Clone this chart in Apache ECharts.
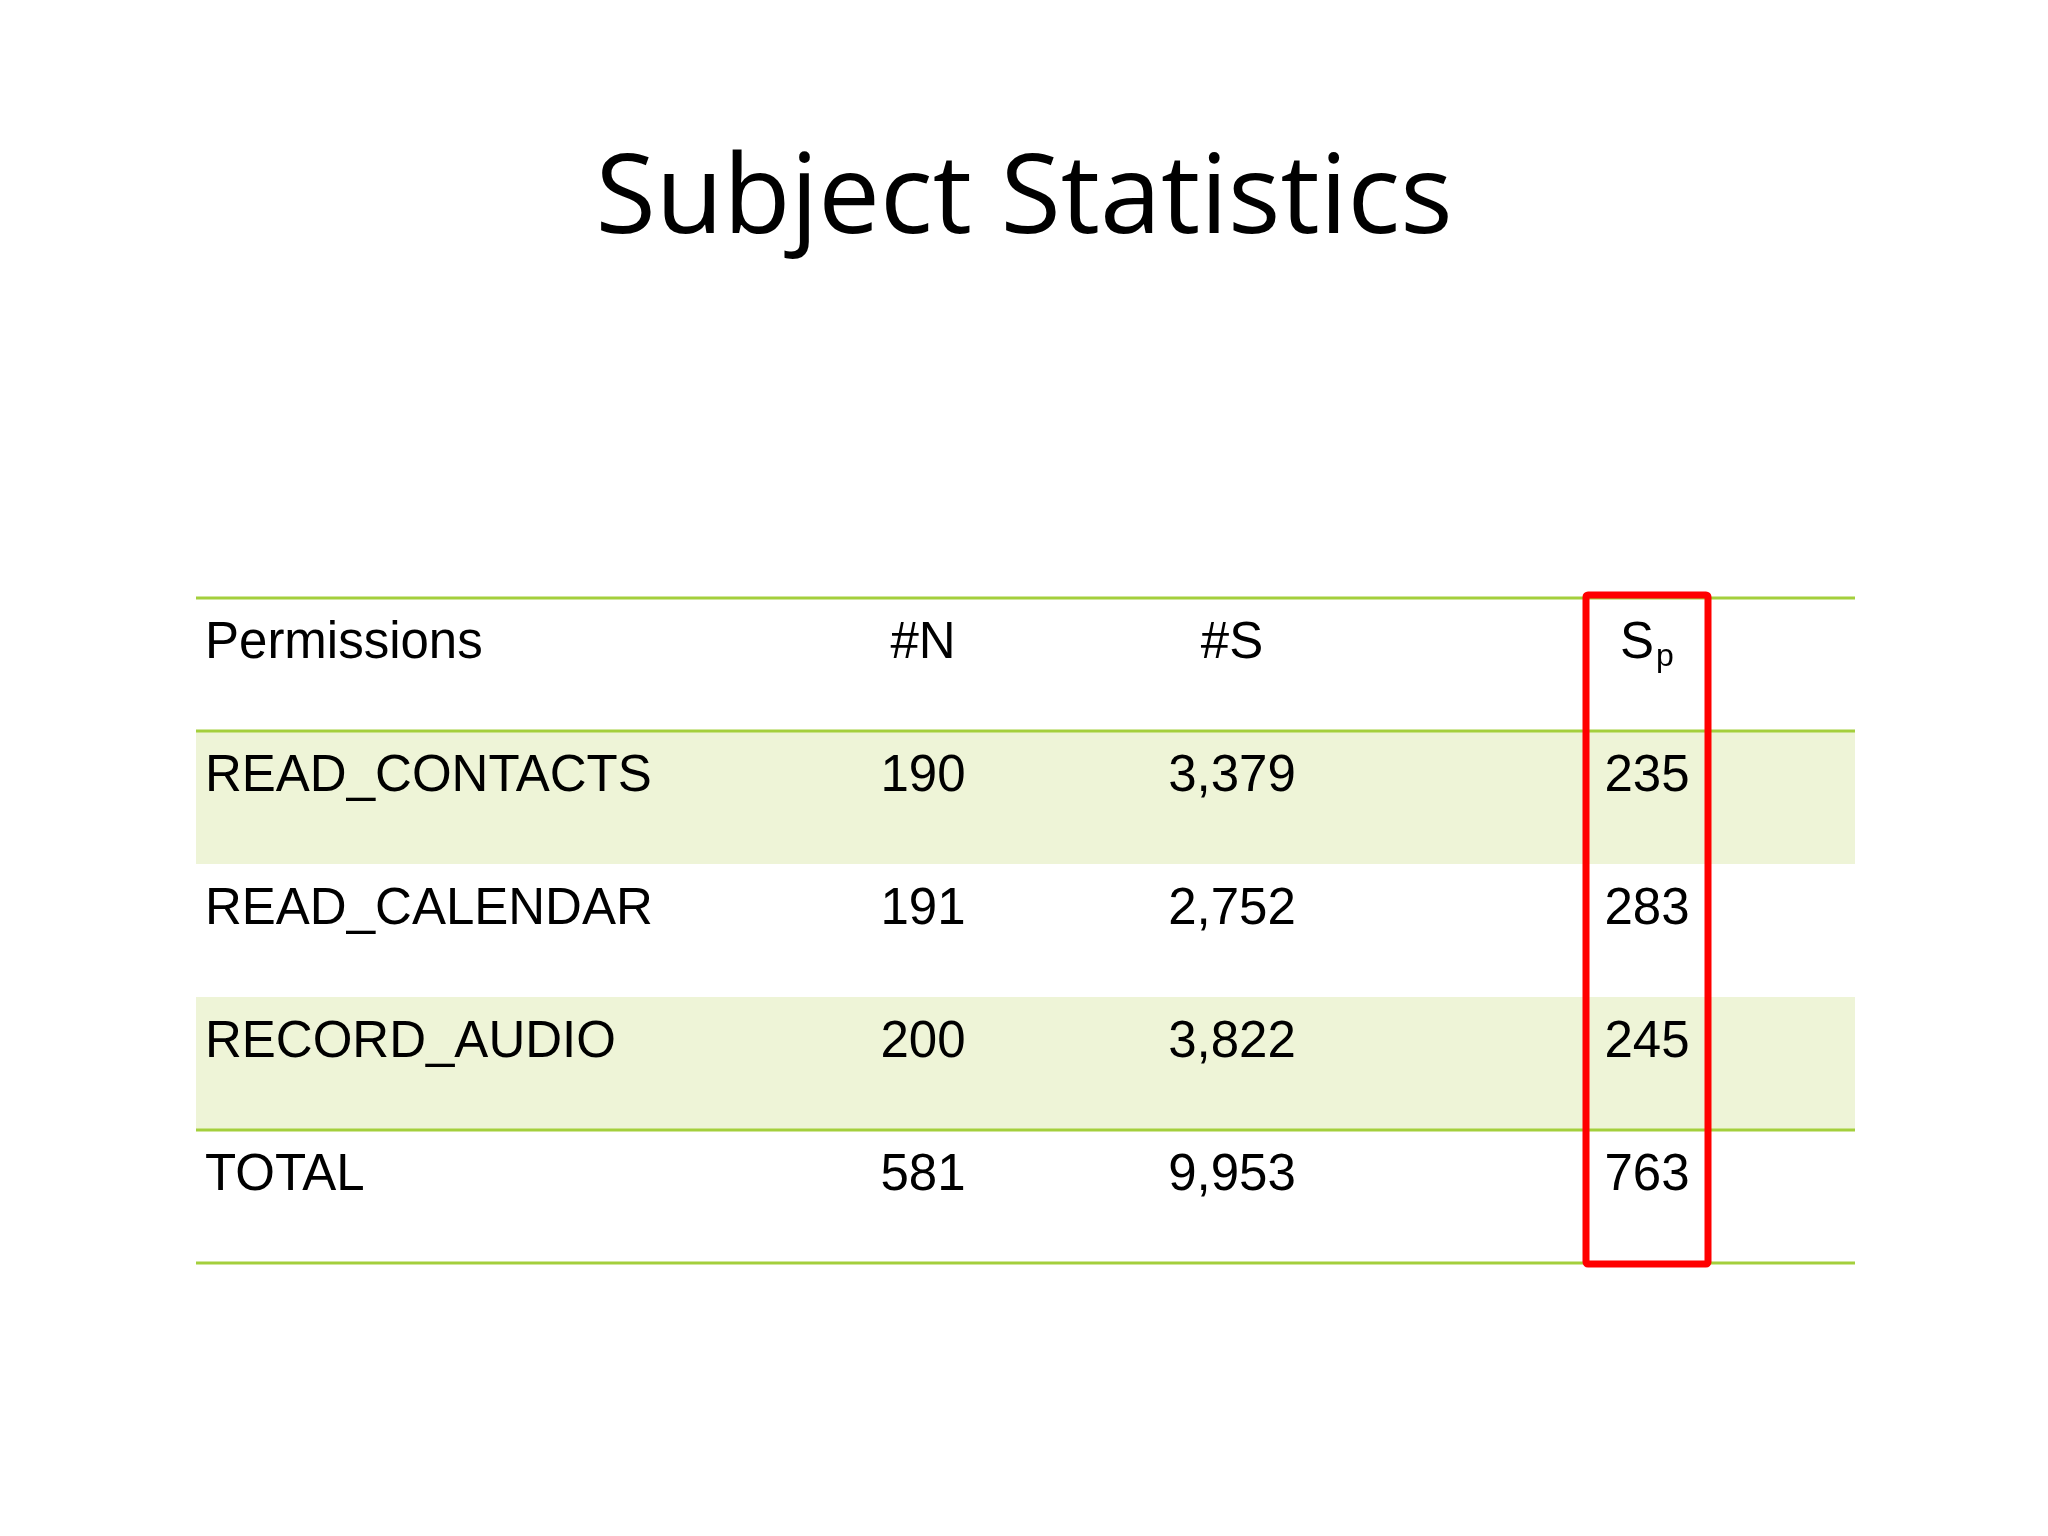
<!DOCTYPE html>
<html>
<head>
<meta charset="utf-8">
<script src="https://cdn.jsdelivr.net/npm/echarts@6/dist/echarts.min.js"></script>
<style>html,body{margin:0;padding:0;background:#fff}#main{width:2048px;height:1536px}</style>
</head>
<body>
<div id="main"></div>
<script>
var headers = ['Permissions', '#N', '#S', 'Sp'];
var permissions = ['READ_CONTACTS', 'READ_CALENDAR', 'RECORD_AUDIO', 'TOTAL'];
var countN = ['190', '191', '200', '581'];
var countS = ['3,379', '2,752', '3,822', '9,953'];
var countSp = ['235', '283', '245', '763'];

var rows = ['h', 'r0', 'r1', 'r2', 'r3'];
// column x position (px, relative to grid left) and alignment
var colX = [9, 727, 1036, 1451];
var colAlign = ['left', 'center', 'center', 'center'];

var cells = [];
headers.forEach(function (h, c) { cells.push([c, 0, h]); });
[permissions, countN, countS, countSp].forEach(function (col, c) {
    col.forEach(function (v, r) { cells.push([c, r + 1, v]); });
});

var dom = document.getElementById('main');
var myChart = echarts.init(dom);

var option = {
    backgroundColor: '#fff',
    animation: false,
    title: {
        text: 'Subject Statistics',
        left: 'center',
        top: 142,
        textStyle: { fontFamily: 'Open Sans', fontWeight: 'normal', fontSize: 110, color: '#000' }
    },
    grid: { left: 196, right: 193, top: 598, height: 665 },
    xAxis: { type: 'value', min: 0, max: 1659, show: false },
    yAxis: { type: 'category', data: rows, inverse: true, show: false },
    series: [
        {
            // row bands and rules
            type: 'custom',
            data: rows.map(function (r, i) { return [0, i]; }),
            renderItem: function (params, api) {
                var top = api.coord([0, api.value(1)]);
                var h = api.size([0, 1])[1];
                var x0 = params.coordSys.x, w = params.coordSys.width;
                var y0 = top[1] - h / 2;
                var i = api.value(1);
                var kids = [];
                if (i === 1 || i === 3) {
                    kids.push({ type: 'rect', shape: { x: x0, y: y0, width: w, height: h }, style: { fill: '#eef4d7' } });
                }
                var lineStyle = { stroke: '#a4cf3c', lineWidth: 3 };
                if (i === 0 || i === 1 || i === 4) {
                    kids.push({ type: 'line', shape: { x1: x0, y1: y0, x2: x0 + w, y2: y0 }, style: lineStyle });
                }
                if (i === 4) {
                    kids.push({ type: 'line', shape: { x1: x0, y1: y0 + h, x2: x0 + w, y2: y0 + h }, style: lineStyle });
                }
                return { type: 'group', children: kids };
            },
            z: 1
        },
        {
            type: 'custom',
            data: cells,
            renderItem: function (params, api) {
                var c = api.value(0), r = api.value(1);
                var p = api.coord([colX[c], r]);
                var h = api.size([0, 1])[1];
                var txt = cells[params.dataIndex][2];
                var y = p[1] - h / 2 + 46;
                if (txt === 'Sp') {
                    return {
                        type: 'text', x: p[0], y: y,
                        style: {
                            text: '{a|S}{b|p}', align: 'center', verticalAlign: 'middle',
                            rich: {
                                a: { fontFamily: 'Liberation Sans', fontSize: 51, color: '#000' },
                                b: { fontFamily: 'Liberation Sans', fontSize: 32, color: '#000', padding: [26, 0, 0, 2] }
                            }
                        }
                    };
                }
                return {
                    type: 'text', x: p[0], y: y,
                    style: {
                        text: txt, align: colAlign[c], verticalAlign: 'middle',
                        fontFamily: 'Liberation Sans', fontSize: 51, fill: '#000'
                    }
                };
            },
            z: 3
        },
        {
            // red highlight box around Sp column
            type: 'custom',
            data: [[3, 0]],
            renderItem: function (params, api) {
                var yTop = params.coordSys.y - 3;
                var x = api.coord([colX[3], 0])[0];
                return {
                    type: 'rect',
                    shape: { x: x - 61, y: yTop, width: 122, height: params.coordSys.height + 4, r: 2 },
                    style: { fill: 'none', stroke: '#ff0000', lineWidth: 7 }
                };
            },
            z: 4
        }
    ]
};

if (option && typeof option === 'object') {
    myChart.setOption(option, true);
}
</script>
</body>
</html>
